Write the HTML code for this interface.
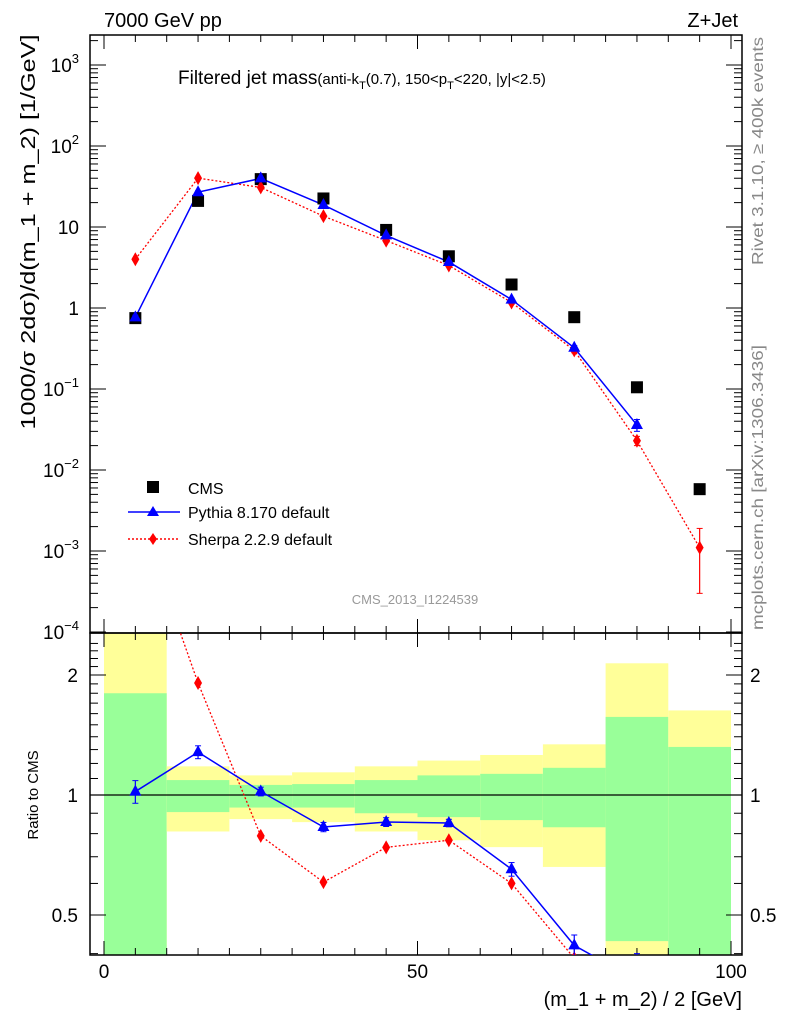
<!DOCTYPE html>
<html><head><meta charset="utf-8"><style>
html,body{margin:0;background:#fff;overflow:hidden;width:786px;height:1024px;}
svg{display:block;font-family:"Liberation Sans",sans-serif;}
</style></head><body>
<svg id="c" width="786" height="1024" xmlns="http://www.w3.org/2000/svg">
<text x="104" y="27" font-size="20">7000 GeV pp</text>
<text x="738" y="27" font-size="20" text-anchor="end">Z+Jet</text>
<text x="178" y="84" font-size="19">Filtered jet mass<tspan font-size="15">(anti-k<tspan font-size="11" dy="5">T</tspan><tspan dy="-5">(0.7), 150&lt;p</tspan><tspan font-size="11" dy="5">T</tspan><tspan dy="-5">&lt;220, |y|&lt;2.5)</tspan></tspan></text>
<text transform="translate(35,232) rotate(-90)" font-size="20" text-anchor="middle" textLength="395" lengthAdjust="spacingAndGlyphs">1000/σ 2dσ)/d(m_1 + m_2) [1/GeV]</text>
<text transform="translate(38,795) rotate(-90)" font-size="15" text-anchor="middle">Ratio to CMS</text>
<text x="742" y="1006" font-size="20" text-anchor="end">(m_1 + m_2) / 2 [GeV]</text>
<text transform="translate(763,265) rotate(-90)" font-size="16" fill="#888" textLength="228" lengthAdjust="spacingAndGlyphs">Rivet 3.1.10, ≥ 400k events</text>
<text transform="translate(763,630) rotate(-90)" font-size="16" fill="#888" textLength="285" lengthAdjust="spacingAndGlyphs">mcplots.cern.ch [arXiv:1306.3436]</text>
<text x="415" y="604" font-size="13" fill="#999" text-anchor="middle">CMS_2013_I1224539</text>
<g id="bands"></g><g id="axes"></g><g id="marks"></g>
<g>
<rect x="147" y="481" width="12" height="12" fill="#000"/>
<text x="188" y="494" font-size="16">CMS</text>
<line x1="128" y1="512" x2="180" y2="512" stroke="#00f" stroke-width="1.5"/>
<path d="M153,506 L159,516 L147,516Z" fill="#00f"/>
<text x="188" y="518" font-size="16">Pythia 8.170 default</text>
<line x1="128" y1="539" x2="180" y2="539" stroke="#f00" stroke-width="1.5" stroke-dasharray="2,2"/>
<path d="M153,533 L157,539 L153,545 L149,539Z" fill="#f00"/>
<text x="188" y="545" font-size="16">Sherpa 2.2.9 default</text>
</g>
</svg>
<script>
const xCenters=[5,15,25,35,45,55,65,75,85,95];
const cms=[0.75,21,39,22.5,9.2,4.35,1.95,0.77,0.105,0.0058];
const pythia=[0.765,26.9,39.8,18.7,7.87,3.70,1.27,0.323,0.036];
const pythiaErr=[0.05,1,1,0.5,0.2,0.08,0.05,0.02,0.006];
const sherpa=[4.0,40.1,30.8,13.6,6.8,3.35,1.17,0.30,0.023,0.0011];
const sherpaErr=[0.1,1,1,0.4,0.2,0.08,0.05,0.02,0.003,0.0008];
const binEdges=[0,10,20,30,40,50,60,70,80,90,100];
const greenUp=[1.80,1.09,1.06,1.065,1.09,1.12,1.13,1.17,1.57,1.32];
const greenDn=[0.3,0.906,0.93,0.93,0.90,0.88,0.865,0.83,0.43,0.3];
const yellowUp=[3,1.18,1.12,1.14,1.18,1.22,1.26,1.34,2.14,1.63];
const yellowDn=[0.3,0.81,0.87,0.855,0.81,0.77,0.74,0.66,0.3,0.68];
const xTicks=[0,50,100];
const yDecades=[-4,-3,-2,-1,0,1,2,3];
const yLabels=["10","10","10","10","1","10","10","10"];
const yExps=["−4","−3","−2","−1","","","2","3"];
const rTicks=[0.5,1,2];

const L=90,R=742,T=35,M=633,B=955;
const NS="http://www.w3.org/2000/svg";
const X=v=>104+v*6.27;
const Y=v=>308-81*Math.log10(v);
const RY=r=>795-120*Math.log2(r);
function mk(p,tag,attrs){const e=document.createElementNS(NS,tag);for(const k in attrs)e.setAttribute(k,attrs[k]);p.appendChild(e);return e;}
const bands=document.getElementById('bands'),axes=document.getElementById('axes'),marks=document.getElementById('marks');
const clampR=y=>Math.max(M,Math.min(B,y));
for(let i=0;i<10;i++){
  const x0=X(binEdges[i]),x1=X(binEdges[i+1]);
  let y1=clampR(RY(yellowUp[i])),y2=clampR(RY(yellowDn[i]));
  let e=mk(bands,'rect',{x:x0,y:y1,width:x1-x0,height:y2-y1,fill:'#ffff99'});
  
  
  y1=clampR(RY(greenUp[i]));y2=clampR(RY(greenDn[i]));
  e=mk(bands,'rect',{x:x0,y:y1,width:x1-x0,height:y2-y1,fill:'#99ff99'});
  
  
}
let f=mk(axes,'rect',{x:L,y:T,width:R-L,height:M-T,fill:'none',stroke:'#000','stroke-width':1.5});

f=mk(axes,'rect',{x:L,y:M,width:R-L,height:B-M,fill:'none',stroke:'#000','stroke-width':1.5});

let u=mk(axes,'line',{x1:L,x2:R,y1:RY(1),y2:RY(1),stroke:'#000','stroke-width':1.2});

for(let v=0;v<=100;v+=5){
  const big=v%50==0,len=big?14:7;
  [[T,1],[M,-1],[M,1],[B,-1]].forEach(([y,d])=>mk(axes,'line',{x1:X(v),x2:X(v),y1:y,y2:y+d*len,stroke:'#000'}));
}
xTicks.forEach(v=>{const t=mk(axes,'text',{x:X(v),y:978,'font-size':19,'text-anchor':'middle'});t.textContent=v;
});
yDecades.forEach((d,i)=>{
  for(let m=1;m<10;m++){const y=Y(m*Math.pow(10,d));if(y<T||y>M)continue;const len=m==1?16:8;
    mk(axes,'line',{x1:L,x2:L+len,y1:y,y2:y,stroke:'#000'});mk(axes,'line',{x1:R,x2:R-len,y1:y,y2:y,stroke:'#000'});}
  const t=mk(axes,'text',{x:79,y:Y(Math.pow(10,d))+7,'font-size':19,'text-anchor':'end'});
  
  t.textContent=yLabels[i];
  if(yExps[i]){const s=mk(t,'tspan',{'font-size':13,dy:-9});s.textContent=yExps[i];}
});
for(let r=0.4;r<=2.5;r+=0.1){const y=RY(r);if(y<M||y>B)continue;const big=rTicks.some(v=>Math.abs(v-r)<1e-6);const len=big?16:8;
  mk(axes,'line',{x1:L,x2:L+len,y1:y,y2:y,stroke:'#000'});mk(axes,'line',{x1:R,x2:R-len,y1:y,y2:y,stroke:'#000'});}
rTicks.forEach(r=>{[[78,'end'],[750,'start']].forEach(([x,a])=>{const t=mk(axes,'text',{x:x,y:RY(r)+7,'font-size':19,'text-anchor':a});t.textContent=r;
});});
const defs=mk(document.getElementById('c'),'defs',{});
const c1=mk(defs,'clipPath',{id:'cm'});mk(c1,'rect',{x:L,y:T,width:R-L,height:M-T});
const c2=mk(defs,'clipPath',{id:'cr'});mk(c2,'rect',{x:L,y:M,width:R-L,height:B-M});
const gm=mk(marks,'g',{'clip-path':'url(#cm)'}),gr=mk(marks,'g',{'clip-path':'url(#cr)'});
function tri(g,x,y,c,name){const e=mk(g,'path',{d:`M${x},${y-7} L${x+6},${y+4} L${x-6},${y+4}Z`,fill:c});}
function dia(g,x,y,c,name){const e=mk(g,'path',{d:`M${x},${y-7} L${x+4},${y} L${x},${y+7} L${x-4},${y}Z`,fill:c});}
function err(g,x,y1,y2,c){mk(g,'line',{x1:x,x2:x,y1:y1,y2:y2,stroke:c,'stroke-width':1.2});mk(g,'line',{x1:x-3,x2:x+3,y1:y1,y2:y1,stroke:c});mk(g,'line',{x1:x-3,x2:x+3,y1:y2,y2:y2,stroke:c});}
let p=mk(gm,'polyline',{points:sherpa.map((v,i)=>X(xCenters[i])+','+Y(v)).join(' '),fill:'none',stroke:'#f00','stroke-width':1.3,'stroke-dasharray':'2,2'});

p=mk(gm,'polyline',{points:pythia.map((v,i)=>X(xCenters[i])+','+Y(v)).join(' '),fill:'none',stroke:'#00f','stroke-width':1.5});

cms.forEach((v,i)=>{const e=mk(gm,'rect',{x:X(xCenters[i])-6,y:Y(v)-6,width:12,height:12,fill:'#000'});});
sherpa.forEach((v,i)=>{err(gm,X(xCenters[i]),Y(v+sherpaErr[i]),Y(Math.max(v-sherpaErr[i],1e-5)),'#f00');dia(gm,X(xCenters[i]),Y(v),'#f00','sherpa-point');});
pythia.forEach((v,i)=>{err(gm,X(xCenters[i]),Y(v+pythiaErr[i]),Y(v-pythiaErr[i]),'#00f');tri(gm,X(xCenters[i]),Y(v),'#00f','pythia-point');});
p=mk(gr,'polyline',{points:sherpa.map((v,i)=>X(xCenters[i])+','+RY(v/cms[i])).join(' '),fill:'none',stroke:'#f00','stroke-width':1.3,'stroke-dasharray':'2,2'});

p=mk(gr,'polyline',{points:pythia.map((v,i)=>X(xCenters[i])+','+RY(v/cms[i])).join(' '),fill:'none',stroke:'#00f','stroke-width':1.5});

sherpa.forEach((v,i)=>dia(gr,X(xCenters[i]),RY(v/cms[i]),'#f00','sherpa-ratio-point'));
pythia.forEach((v,i)=>{err(gr,X(xCenters[i]),RY((v+pythiaErr[i])/cms[i]),RY((v-pythiaErr[i])/cms[i]),'#00f');tri(gr,X(xCenters[i]),RY(v/cms[i]),'#00f','pythia-ratio-point');});
</script>
</body></html>
